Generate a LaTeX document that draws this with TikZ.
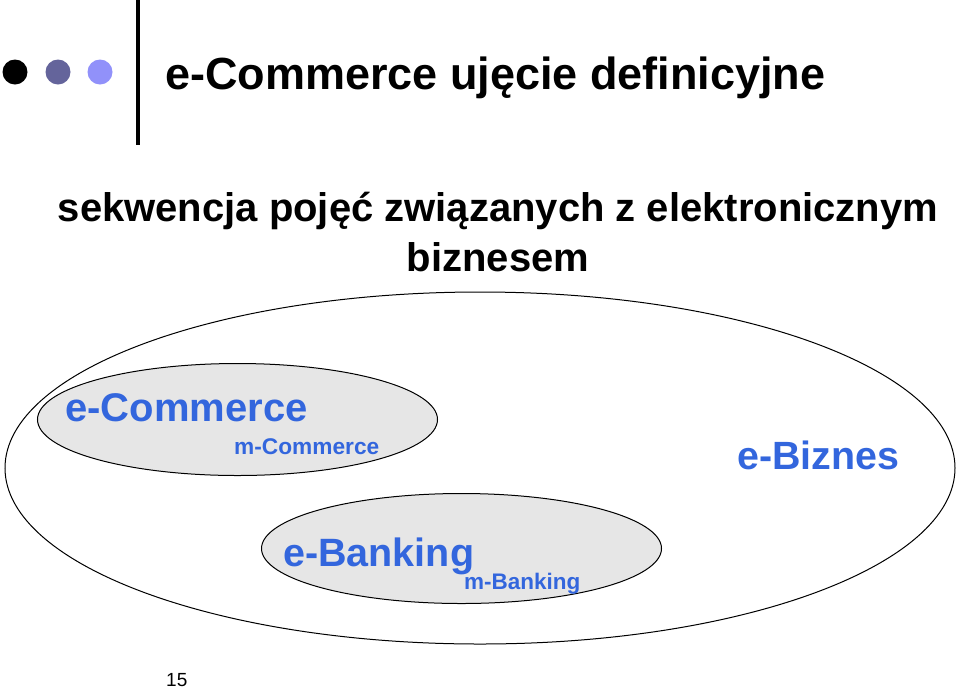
\documentclass[tikz,border=0pt]{standalone}
\usepackage{fontspec}
\setmainfont{Liberation Sans}
\definecolor{tblue}{HTML}{3366DD}
\definecolor{efill}{HTML}{E6E6E6}
\begin{document}
\begin{tikzpicture}[x=1pt,y=-1pt,
  lbl/.style={font=\bfseries, text=tblue, inner sep=0, anchor=base west},
  ell/.style={draw, line width=1pt}]
\useasboundingbox (0,0) rectangle (960,689);
\fill (15,72) circle (12.5);
\fill[fill={rgb,255:red,100;green,100;blue,155}] (58,72) circle (12.5);
\fill[fill={rgb,255:red,145;green,145;blue,250}] (100,72) circle (12.5);
\draw[line width=4pt] (138,0) -- (138,145);
\node[inner sep=0, anchor=base west, font=\bfseries\fontsize{45}{50}\selectfont] (title) at (165,89) {e-Commerce ujęcie definicyjne};
\node[inner sep=0, anchor=base, align=center, font=\bfseries\fontsize{40}{50}\selectfont] (sub) at (498,221) {sekwencja pojęć związanych z elektronicznym};
\node[inner sep=0, anchor=base, font=\bfseries\fontsize{40}{50}\selectfont] (sub2) at (498,271) {biznesem};
\draw[ell] (480,468) ellipse [x radius=475, y radius=176];
\draw[ell, fill=efill] (237.5,419.5) ellipse [x radius=200, y radius=56];
\draw[ell, fill=efill] (461.5,548.5) ellipse [x radius=200, y radius=55];
\node[lbl, font=\bfseries\fontsize{40}{44}\selectfont] (ec) at (65,421) {e-Commerce};
\node[lbl, font=\bfseries\fontsize{22.7}{26}\selectfont] (mc) at (234,454) {m-Commerce};
\node[lbl, font=\bfseries\fontsize{39.4}{44}\selectfont] (eb) at (737,469) {e-Biznes};
\node[lbl, font=\bfseries\fontsize{39.5}{44}\selectfont] (ebk) at (283,566) {e-Banking};
\node[lbl, font=\bfseries\fontsize{22.5}{26}\selectfont] (mb) at (464,589) {m-Banking};
\node[inner sep=0, anchor=base west, font=\fontsize{19}{22}\selectfont] (pg) at (166,686) {15};
\end{tikzpicture}
\end{document}
